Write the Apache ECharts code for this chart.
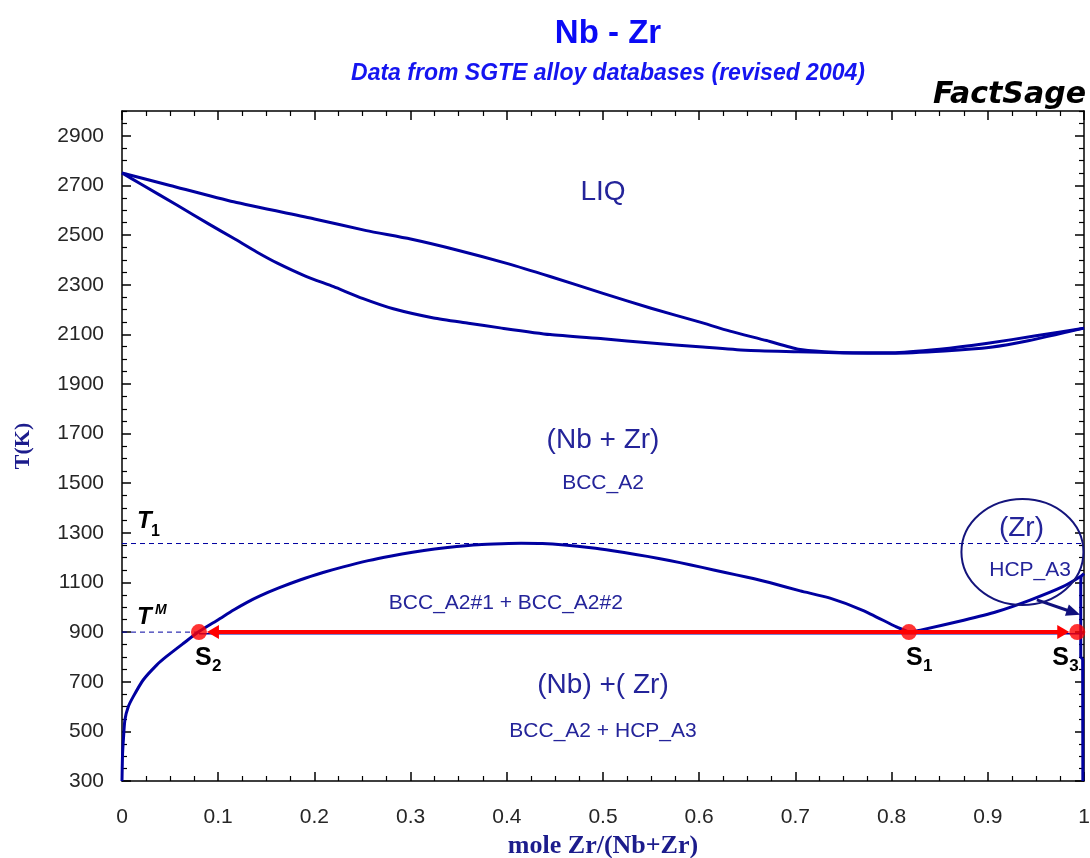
<!DOCTYPE html>
<html>
<head>
<meta charset="utf-8">
<title>Nb - Zr</title>
<script src="https://cdn.jsdelivr.net/npm/echarts@6/dist/echarts.min.js"></script>
<style>
  html, body { margin: 0; padding: 0; background: #ffffff; }
  #chart { width: 1090px; height: 858px; }
</style>
</head>
<body>
<div id="chart"></div>
<script>
// ---- Nb–Zr binary phase diagram (SGTE alloy database) ----

// axis tick labels
const xTicks = [0, 0.1, 0.2, 0.3, 0.4, 0.5, 0.6, 0.7, 0.8, 0.9, 1];
const yTicks = [300, 500, 700, 900, 1100, 1300, 1500, 1700, 1900, 2100, 2300, 2500, 2700, 2900];

// liquidus
const liquidusX = [0, 0.05, 0.116, 0.2, 0.254, 0.3, 0.35, 0.4, 0.445, 0.5, 0.55, 0.6, 0.632, 0.67, 0.703, 0.73, 0.76, 0.8, 0.85, 0.9, 0.95, 1.0];
const liquidusT = [2750, 2700, 2634, 2565, 2518, 2484, 2438, 2386, 2333, 2265, 2205, 2150, 2113, 2075, 2040, 2030, 2026, 2026, 2040, 2064, 2094, 2125];

// solidus
const solidusX = [0, 0.02, 0.057, 0.09, 0.116, 0.14, 0.161, 0.19, 0.22, 0.25, 0.282, 0.324, 0.36, 0.393, 0.445, 0.5, 0.55, 0.6, 0.648, 0.703, 0.75, 0.8, 0.855, 0.903, 0.942, 1.0];
const solidusT = [2750, 2705, 2621, 2545, 2487, 2432, 2388, 2336, 2292, 2245, 2203, 2166, 2145, 2126, 2099, 2082, 2065, 2050, 2036, 2030, 2025, 2024, 2033, 2048, 2074, 2125];

// BCC_A2 miscibility gap
const gapX = [0, 0.0005, 0.0015, 0.003, 0.0066, 0.0117, 0.022, 0.036, 0.046, 0.064, 0.08, 0.1, 0.116, 0.13, 0.1435, 0.163, 0.185, 0.209, 0.23, 0.256, 0.28, 0.302, 0.325, 0.348, 0.37, 0.395, 0.415, 0.437, 0.46, 0.4875, 0.51, 0.534, 0.558, 0.58, 0.603, 0.627, 0.65, 0.673, 0.705, 0.736, 0.77, 0.805, 0.818];
const gapT = [300, 400, 470, 546, 600, 640, 707, 767, 801, 855, 902, 950, 989, 1020, 1046, 1078, 1110, 1140, 1163, 1188, 1207, 1222, 1235, 1245, 1252, 1256, 1258, 1257, 1251, 1240, 1228, 1213, 1197, 1180, 1161, 1140, 1121, 1100, 1066, 1037, 988, 921, 900];

// BCC / HCP boundary on the Zr side
const hcpBoundX = [0.818, 0.83, 0.875, 0.909, 0.944, 0.978, 0.996, 1.0];
const hcpBoundT = [900, 908, 948, 982, 1029, 1083, 1123, 1136];

// HCP_A3 solvus close to pure Zr
const hcpSolvusX = [0.997, 0.9966, 0.9966, 0.9986, 0.9988];
const hcpSolvusT = [1128, 1100, 800, 790, 300];

// monotectoid isotherm
const monotectoidX = [0.08, 1.0];
const monotectoidT = [893, 893];

// marked temperatures
const T1 = 1257;
const TM = 900;

// marked compositions at TM
const pointNames = ['S', 'S', 'S'];
const pointSubs = ['2', '1', '3'];
const pointX = [0.08, 0.818, 0.993];

// phase-field labels
const regionText = ['LIQ', '(Nb + Zr)', 'BCC_A2', 'BCC_A2#1 + BCC_A2#2', '(Nb) +( Zr)', 'BCC_A2 + HCP_A3', '(Zr)', 'HCP_A3'];
const regionX = [0.5, 0.5, 0.5, 0.399, 0.5, 0.5, 0.935, 0.944];
const regionT = [2674, 1674, 1501, 1017, 687, 501, 1320, 1150];

// pointer from the (Zr) field label to the HCP solvus
const pointerFrom = [0.951, 1030];
const pointerTo = [0.996, 970];

// ---------------------------------------------------------------
const zip = (xs, ys) => xs.map((x, i) => [x, ys[i]]);

const NAVY = '#0000a0';
const LABEL_BLUE = '#24249a';
const Y_MIN = 300, Y_MAX = 3000;

const yMinor = [];
for (let v = Y_MIN; v <= Y_MAX; v += 50) {
  if (yTicks.indexOf(v) < 0) yMinor.push(v);
}

const axisLine = { show: true, lineStyle: { color: '#000', width: 1.5 } };
const majorTick = { show: true, inside: true, length: 9, lineStyle: { color: '#000', width: 1.5 } };
const minorTickY = { show: true, inside: true, length: 5, lineStyle: { color: '#000', width: 1.2 }, customValues: yMinor };
const tickFont = { fontSize: 21, fontFamily: 'Liberation Sans', color: '#262626' };

function xAxisDef(position, showLabels) {
  return {
    type: 'value', position: position, min: 0, max: 1, interval: 0.1,
    axisLine: axisLine,
    axisTick: majorTick,
    minorTick: { show: true, splitNumber: 4, length: 5, lineStyle: { color: '#000', width: 1.2 } },
    splitLine: { show: false }, minorSplitLine: { show: false },
    axisLabel: Object.assign({ show: showLabels, margin: 26, customValues: xTicks,
      formatter: v => String(+(+v).toFixed(2)) }, tickFont)
  };
}

function yAxisMajor(position, showLabels) {
  return {
    type: 'value', position: position, min: Y_MIN, max: Y_MAX,
    axisLine: axisLine,
    axisTick: Object.assign({ customValues: yTicks }, majorTick),
    splitLine: { show: false },
    axisLabel: Object.assign({ show: showLabels, margin: 18, customValues: yTicks,
      formatter: v => String(Math.round(v)) }, tickFont)
  };
}

function yAxisMinor(position) {
  return {
    type: 'value', position: position, min: Y_MIN, max: Y_MAX,
    axisLine: { show: false },
    axisTick: minorTickY,
    splitLine: { show: false },
    axisLabel: { show: false }
  };
}

function curve(name, data, extra) {
  return Object.assign({
    name: name, type: 'line', data: data, showSymbol: false, symbol: 'none',
    lineStyle: { color: NAVY, width: 3, join: 'round' }, z: 3, animation: false, silent: true
  }, extra || {});
}

function arrowRenderer(gap, headLen, halfWidth, color, width) {
  return function (params, api) {
    const a = api.coord([api.value(0), api.value(1)]);
    const b = api.coord([api.value(2), api.value(3)]);
    const dx = b[0] - a[0], dy = b[1] - a[1];
    const len = Math.hypot(dx, dy) || 1;
    const ux = dx / len, uy = dy / len;
    const tip = [b[0] - ux * gap, b[1] - uy * gap];
    const base = [tip[0] - ux * headLen, tip[1] - uy * headLen];
    const nx = -uy, ny = ux;
    return {
      type: 'group',
      children: [
        { type: 'line', shape: { x1: a[0], y1: a[1], x2: base[0] + ux, y2: base[1] + uy },
          style: { stroke: color, lineWidth: width } },
        { type: 'polygon',
          shape: { points: [tip, [base[0] + nx * halfWidth, base[1] + ny * halfWidth], [base[0] - nx * halfWidth, base[1] - ny * halfWidth]] },
          style: { fill: color } }
      ]
    };
  };
}

const chart = echarts.init(document.getElementById('chart'), null, { renderer: 'canvas' });

chart.setOption({
  animation: false,
  backgroundColor: '#ffffff',
  title: {
    text: 'Nb - Zr',
    subtext: 'Data from SGTE alloy databases (revised 2004)',
    left: 603, top: 12, textAlign: 'center', itemGap: 12,
    textStyle: { fontSize: 33, fontWeight: 'bold', color: '#0a0af5', fontFamily: 'Liberation Sans' },
    subtextStyle: { fontSize: 23, fontWeight: 'bold', fontStyle: 'italic', color: '#1515f0', fontFamily: 'Liberation Sans' }
  },
  grid: { left: 122, right: 6, top: 111, bottom: 77, containLabel: false, outerBoundsMode: 'none' },
  xAxis: [
    Object.assign(xAxisDef('bottom', true), {
      name: 'mole Zr/(Nb+Zr)', nameLocation: 'middle', nameGap: 52,
      nameTextStyle: { fontSize: 26, fontWeight: 'bold', fontFamily: 'Liberation Serif', color: '#1c1c8c' }
    }),
    xAxisDef('top', false)
  ],
  yAxis: [
    Object.assign(yAxisMajor('left', true), {
      name: 'T(K)', nameLocation: 'middle', nameRotate: 90, nameGap: 88,
      nameTextStyle: { fontSize: 22, fontWeight: 'bold', fontFamily: 'Liberation Serif', color: '#1c1c8c' }
    }),
    yAxisMinor('left'),
    yAxisMajor('right', false),
    yAxisMinor('right')
  ],
  series: [
    curve('T1', [[0, T1], [1, T1]], { lineStyle: { color: NAVY, width: 1, type: [5, 4] }, z: 1 }),
    curve('TM', [[0, TM], [pointX[0], TM]], { lineStyle: { color: NAVY, width: 1, type: [5, 4] }, z: 1 }),
    curve('liquidus', zip(liquidusX, liquidusT), { smooth: 0.2 }),
    curve('solidus', zip(solidusX, solidusT), { smooth: 0.2 }),
    curve('BCC miscibility gap', zip(gapX, gapT), { smooth: 0.2 }),
    curve('BCC/HCP boundary', zip(hcpBoundX, hcpBoundT), { smooth: 0.2 }),
    curve('HCP solvus', zip(hcpSolvusX, hcpSolvusT)),
    curve('monotectoid', zip(monotectoidX, monotectoidT), { lineStyle: { color: NAVY, width: 1.5 }, z: 2 }),
    {
      name: 'tie arrows', type: 'custom', z: 5, clip: false, silent: true,
      encode: { x: [0, 2], y: [1, 3] },
      renderItem: arrowRenderer(8, 12, 7, '#ff0000', 4),
      data: [
        [pointX[1], TM, pointX[0], TM],
        [pointX[1], TM, pointX[2], TM]
      ]
    },
    {
      name: 'pointer', type: 'custom', z: 5, clip: false, silent: true,
      encode: { x: [0, 2], y: [1, 3] },
      renderItem: arrowRenderer(0, 14, 6, '#10107c', 3),
      data: [[pointerFrom[0], pointerFrom[1], pointerTo[0], pointerTo[1]]]
    },
    {
      name: 'points', type: 'scatter', z: 6, silent: true,
      symbol: 'circle', symbolSize: 16,
      itemStyle: { color: '#ff0000' },
      data: pointX.map(x => [x, TM])
    }
  ]
});

// ---- annotations placed through the axes ----
const toPx = (x, T) => chart.convertToPixel({ xAxisIndex: 0, yAxisIndex: 0 }, [x, T]);
const bigLabels = ['LIQ', '(Nb + Zr)', '(Nb) +( Zr)', '(Zr)'];
const graphics = [];

regionText.forEach((t, i) => {
  const p = toPx(regionX[i], regionT[i]);
  const big = bigLabels.indexOf(t) >= 0;
  graphics.push({
    type: 'text', x: p[0], y: p[1], z: 10, silent: true,
    style: { text: t, fill: LABEL_BLUE, align: 'center', verticalAlign: 'middle',
      font: (big ? '28px' : '21px') + ' "Liberation Sans"' }
  });
});

// outline around the (Zr) field
const ec = toPx(0.936, 1223);
graphics.push({
  type: 'ellipse', z: 9, silent: true,
  shape: { cx: ec[0], cy: ec[1], rx: 61, ry: 53 },
  style: { fill: 'none', stroke: '#14147c', lineWidth: 2 }
});

// T1 and TM markers on the left axis
const pT1 = toPx(0, T1);
graphics.push(
  { type: 'text', x: pT1[0] + 15, y: pT1[1] - 22, z: 10, silent: true,
    style: { text: 'T', font: 'italic bold 24px "Liberation Sans"', fill: '#000', verticalAlign: 'middle' } },
  { type: 'text', x: pT1[0] + 29, y: pT1[1] - 12, z: 10, silent: true,
    style: { text: '1', font: 'bold 16px "Liberation Sans"', fill: '#000', verticalAlign: 'middle' } }
);
const pTM = toPx(0, TM);
graphics.push(
  { type: 'text', x: pTM[0] + 15, y: pTM[1] - 15, z: 10, silent: true,
    style: { text: 'T', font: 'italic bold 24px "Liberation Sans"', fill: '#000', verticalAlign: 'middle' } },
  { type: 'text', x: pTM[0] + 33, y: pTM[1] - 22, z: 10, silent: true,
    style: { text: 'M', font: 'italic bold 14px "Liberation Sans"', fill: '#000', verticalAlign: 'middle' } }
);

// S labels under the points
const sShift = [-4, -3, -25];
pointX.forEach((x, i) => {
  const p = toPx(x, TM);
  graphics.push(
    { type: 'text', x: p[0] + sShift[i], y: p[1] + 26, z: 10, silent: true,
      style: { text: pointNames[i], font: 'bold 25px "Liberation Sans"', fill: '#000', verticalAlign: 'middle' } },
    { type: 'text', x: p[0] + sShift[i] + 17, y: p[1] + 34, z: 10, silent: true,
      style: { text: pointSubs[i], font: 'bold 17px "Liberation Sans"', fill: '#000', verticalAlign: 'middle' } }
  );
});

// program mark
graphics.push({
  type: 'text', x: 1086, y: 95, z: 10, silent: true,
  style: { text: 'FactSage', font: 'italic bold 30px "DejaVu Sans"', fill: '#000', align: 'right', verticalAlign: 'middle' }
});

chart.setOption({ graphic: graphics });
</script>
</body>
</html>
